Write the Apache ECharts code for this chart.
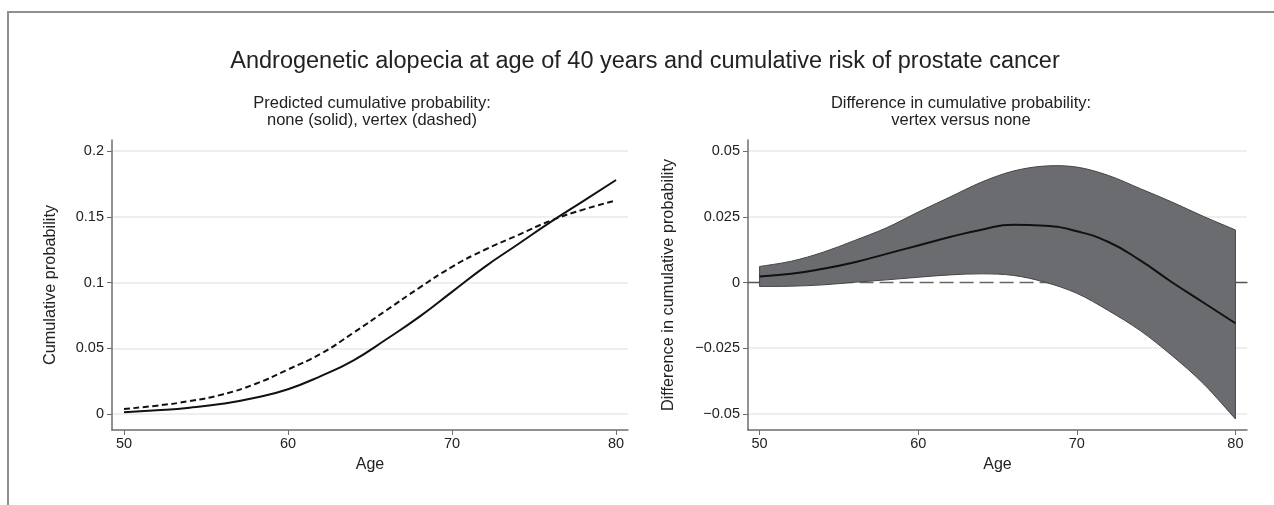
<!DOCTYPE html>
<html>
<head>
<meta charset="utf-8">
<script src="https://cdn.jsdelivr.net/npm/echarts@6/dist/echarts.min.js"></script>
<style>
  html, body { margin: 0; padding: 0; background: #fff; }
  #main { width: 1274px; height: 505px; }
</style>
</head>
<body>
<div id="main"></div>
<script>
var dom = document.getElementById('main');
var myChart = echarts.init(dom);

// ages on the x axis
var ages = [50, 52, 54, 56, 58, 60, 62, 64, 66, 68, 70, 72, 74, 76, 78, 80];
// predicted cumulative probability
var probNone = [0.0015, 0.003, 0.005, 0.008, 0.0125, 0.019, 0.029, 0.041, 0.057, 0.074, 0.093, 0.112, 0.129, 0.146, 0.162, 0.178];
var probVertex = [0.004, 0.0065, 0.010, 0.015, 0.023, 0.034, 0.046, 0.062, 0.079, 0.096, 0.112, 0.125, 0.136, 0.147, 0.1555, 0.1625];
// difference vertex - none, with confidence band
var diff = [0.0023, 0.0033, 0.0052, 0.0077, 0.0109, 0.0141, 0.0173, 0.0201, 0.022, 0.0216, 0.0195, 0.0154, 0.0084, 0.0001, -0.0077, -0.0155];
var diffUpper = [0.0061, 0.0081, 0.0115, 0.016, 0.0208, 0.0268, 0.0325, 0.0382, 0.0424, 0.0443, 0.0439, 0.0407, 0.0357, 0.0306, 0.0251, 0.02];
var diffLower = [-0.0015, -0.0014, -0.0009, 0.0001, 0.001, 0.002, 0.0029, 0.0033, 0.0027, 0.0001, -0.0041, -0.0107, -0.0183, -0.0278, -0.0386, -0.0519];

var xTicks = [50, 60, 70, 80];
var leftTicks = [0, 0.05, 0.1, 0.15, 0.2];
var rightTicks = [-0.05, -0.025, 0, 0.025, 0.05];

var font = "'Liberation Sans', Arial, sans-serif";
var axisColor = '#6e6e6e';
var gridColor = '#e8e8e8';

function pairs(ys) {
    return ages.map(function (a, i) { return [a, ys[i]]; });
}

function xAxisFor(idx) {
    return {
        type: 'value', gridIndex: idx, min: 49.27, max: 80.73,
        name: 'Age', nameLocation: 'middle', nameGap: 27,
        nameTextStyle: { fontFamily: font, fontSize: 16, color: '#222' },
        axisLine: { show: true, onZero: false, lineStyle: { color: axisColor, width: 1.5 } },
        axisTick: { show: true, customValues: xTicks, length: 5, lineStyle: { color: axisColor } },
        axisLabel: { customValues: xTicks, margin: 6, fontFamily: font, fontSize: 14.5, color: '#222' },
        splitLine: { show: false }
    };
}

function yAxisFor(idx, lo, hi, ticks, name, gap, fmt) {
    return {
        type: 'value', gridIndex: idx, min: lo, max: hi,
        name: name, nameLocation: 'middle', nameGap: gap, nameRotate: 90,
        nameTextStyle: { fontFamily: font, fontSize: 16.3, color: '#222' },
        axisLine: { show: true, onZero: false, lineStyle: { color: axisColor, width: 1.5 } },
        axisTick: { show: true, customValues: ticks, length: 5, lineStyle: { color: axisColor } },
        axisLabel: { customValues: ticks, margin: 8, fontFamily: font, fontSize: 14.5, color: '#222', formatter: fmt },
        splitLine: { show: false }
    };
}

function gridLines(ticks, skipZero) {
    return {
        silent: true, symbol: 'none', precision: 4, z: 0, label: { show: false },
        lineStyle: { color: gridColor, width: 1.5, type: 'solid' },
        data: ticks.filter(function (t) { return !(skipZero && t === 0); })
                   .map(function (t) { return { yAxis: t }; })
    };
}

function fmtRight(v) {
    if (v === 0) return '0';
    return (v < 0 ? '\u2212' : '') + String(Math.abs(v));
}

// cubic path through pixel points
function bezierThrough(p) {
    var s = '';
    var n = p.length;
    for (var i = 0; i < n - 1; i++) {
        var p0 = p[Math.max(i - 1, 0)], p1 = p[i], p2 = p[i + 1], p3 = p[Math.min(i + 2, n - 1)];
        var c1 = [p1[0] + (p2[0] - p0[0]) / 6, p1[1] + (p2[1] - p0[1]) / 6];
        var c2 = [p2[0] - (p3[0] - p1[0]) / 6, p2[1] - (p3[1] - p1[1]) / 6];
        s += ' C' + c1[0] + ',' + c1[1] + ' ' + c2[0] + ',' + c2[1] + ' ' + p2[0] + ',' + p2[1];
    }
    return s;
}

function renderBand(params, api) {
    var up = ages.map(function (a, i) { return api.coord([a, diffUpper[i]]); });
    var lo = ages.map(function (a, i) { return api.coord([a, diffLower[i]]); }).reverse();
    var d = 'M' + up[0][0] + ',' + up[0][1] + bezierThrough(up) +
            ' L' + lo[0][0] + ',' + lo[0][1] + bezierThrough(lo) + ' Z';
    return {
        type: 'path',
        shape: { pathData: d },
        style: { fill: '#6b6c70', stroke: '#454545', lineWidth: 1 }
    };
}

option = {
    animation: false,
    backgroundColor: '#fff',
    textStyle: { fontFamily: font },
    graphic: [{
        type: 'rect', shape: { x: 8, y: 12, width: 1300, height: 600 },
        style: { fill: 'none', stroke: '#8f8f8f', lineWidth: 2 }, z: -10
    }],
    title: [{
        text: 'Androgenetic alopecia at age of 40 years and cumulative risk of prostate cancer',
        left: 640, top: 45, textAlign: 'center',
        textStyle: { fontFamily: font, fontSize: 23.5, fontWeight: 'normal', color: '#222' }
    }, {
        text: 'Predicted cumulative probability:\nnone (solid), vertex (dashed)',
        left: 367, top: 90, textAlign: 'center',
        textStyle: { fontFamily: font, fontSize: 16.5, fontWeight: 'normal', color: '#222', lineHeight: 17 }
    }, {
        text: 'Difference in cumulative probability:\nvertex versus none',
        left: 956, top: 90, textAlign: 'center',
        textStyle: { fontFamily: font, fontSize: 16.5, fontWeight: 'normal', color: '#222', lineHeight: 17 }
    }],
    grid: [
        { left: 112, width: 516, top: 140, height: 290 },
        { left: 748, width: 499, top: 140, height: 290 }
    ],
    xAxis: [xAxisFor(0), xAxisFor(1)],
    yAxis: [
        yAxisFor(0, -0.012, 0.2084, leftTicks, 'Cumulative probability', 53),
        yAxisFor(1, -0.0561, 0.0542, rightTicks, 'Difference in cumulative probability', 71, fmtRight)
    ],
    series: [{
        name: 'none', type: 'line', xAxisIndex: 0, yAxisIndex: 0,
        data: pairs(probNone), smooth: true, showSymbol: false, z: 5,
        lineStyle: { color: '#111', width: 2 },
        markLine: gridLines(leftTicks, false)
    }, {
        name: 'vertex', type: 'line', xAxisIndex: 0, yAxisIndex: 0,
        data: pairs(probVertex), smooth: true, showSymbol: false, z: 5,
        lineStyle: { color: '#111', width: 2, type: [6, 3.5] }
    }, {
        // zero reference inside the band range
        type: 'line', xAxisIndex: 1, yAxisIndex: 1, silent: true,
        data: [[ages[0], 0], [ages[ages.length - 1], 0]], showSymbol: false, z: 1,
        lineStyle: { color: '#666', width: 1.3, type: [14, 6] },
        markLine: gridLines(rightTicks, true)
    }, {
        // zero line outside the data range
        type: 'line', xAxisIndex: 1, yAxisIndex: 1, silent: true,
        data: [[49.24, 0], [ages[0], 0], [ages[0], null], [ages[ages.length - 1], null], [ages[ages.length - 1], 0], [80.76, 0]],
        showSymbol: false, z: 1, connectNulls: false,
        lineStyle: { color: '#555', width: 1.5 }
    }, {
        name: 'band', type: 'custom', xAxisIndex: 1, yAxisIndex: 1, silent: true,
        data: [[ages[0], diffLower[0]], [ages[ages.length - 1], diffUpper[ages.length - 1]]],
        renderItem: function (params, api) {
            if (params.dataIndex !== 0) return;
            return renderBand(params, api);
        },
        z: 2
    }, {
        name: 'difference', type: 'line', xAxisIndex: 1, yAxisIndex: 1,
        data: pairs(diff), smooth: true, showSymbol: false, z: 4,
        lineStyle: { color: '#111', width: 2 }
    }]
};

if (option && typeof option === "object") {
    myChart.setOption(option, true);
}
</script>
</body>
</html>
